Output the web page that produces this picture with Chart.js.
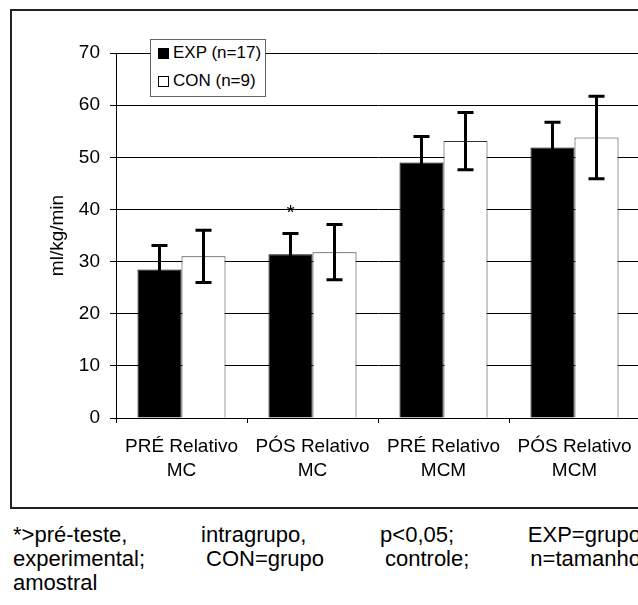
<!DOCTYPE html>
<html>
<head>
<meta charset="utf-8">
<script src="https://cdn.jsdelivr.net/npm/chart.js@4.4.0/dist/chart.umd.min.js"></script>
<style>
html, body { margin: 0; padding: 0; background: #fff; width: 638px; height: 605px; overflow: hidden; }
body { position: relative; font-family: "Liberation Sans", Arial, sans-serif; color: #000; }
#moldura { position: absolute; left: 10px; top: 9px; width: 680px; height: 496px; border: 2px solid #222; }
#grafico { position: absolute; left: 0; top: 0; }
#legenda { position: absolute; left: 150px; top: 39px; width: 114px; height: 56px; border: 1px solid #666; background: #fff; font-size: 17px; }
#legenda .item { position: absolute; left: 7px; height: 26px; line-height: 26px; white-space: nowrap; }
#legenda .marca { display: inline-block; width: 9px; height: 9px; border: 1px solid #000; margin-right: 4px; vertical-align: -1px; }
#nota { position: absolute; left: 13px; top: 523px; width: 628px; font-size: 22px; line-height: 24px; }
#nota .just { white-space: nowrap; display: flex; justify-content: space-between; }
</style>
</head>
<body>
<div id="moldura"><canvas id="grafico" width="660" height="496"></canvas></div>
<div id="legenda"></div>
<div id="nota">
  <div class="just"><span>*&gt;pré-teste,</span><span>intragrupo,</span><span>p&lt;0,05;</span><span>EXP=grupo</span></div>
  <div class="just"><span>experimental;</span><span>CON=grupo</span><span>controle;</span><span>n=tamanho</span></div>
  <div>amostral</div>
</div>
<script>
const categorias = [['PRÉ Relativo', 'MC'], ['PÓS Relativo', 'MC'], ['PRÉ Relativo', 'MCM'], ['PÓS Relativo', 'MCM']];
const mediaExp = [28.5, 31.4, 49.0, 51.9];
const erroExp = [4.6, 4.0, 5.0, 4.8];
const mediaCon = [31.0, 31.8, 53.1, 53.8];
const erroCon = [5.0, 5.3, 5.5, 7.9];
const marcaExp = ['', '*', '', ''];
const ticksY = [0, 10, 20, 30, 40, 50, 60, 70];

Chart.defaults.font.family = '"Liberation Sans", Arial, sans-serif';
Chart.defaults.color = '#000';

const barrasErro = {
    id: 'barrasErro',
    afterDatasetsDraw(chart) {
        const ctx = chart.ctx;
        const escalaY = chart.scales.y;
        chart.data.datasets.forEach((ds, i) => {
            const meta = chart.getDatasetMeta(i);
            meta.data.forEach((barra, j) => {
                const m = ds.data[j];
                const e = ds.erro[j];
                const topo = escalaY.getPixelForValue(m + e);
                const base = escalaY.getPixelForValue(m - e);
                ctx.save();
                ctx.strokeStyle = '#000';
                ctx.lineWidth = 3;
                ctx.beginPath();
                ctx.moveTo(barra.x, topo);
                ctx.lineTo(barra.x, base);
                ctx.moveTo(barra.x - 8, topo);
                ctx.lineTo(barra.x + 8, topo);
                ctx.moveTo(barra.x - 8, base);
                ctx.lineTo(barra.x + 8, base);
                ctx.stroke();
                if (ds.marca && ds.marca[j]) {
                    ctx.fillStyle = '#000';
                    ctx.font = '21px "Liberation Sans", Arial, sans-serif';
                    ctx.textAlign = 'center';
                    ctx.textBaseline = 'alphabetic';
                    ctx.fillText(ds.marca[j], barra.x, topo - 14);
                }
                ctx.restore();
            });
        });
    }
};

const grafico = new Chart(document.getElementById('grafico'), {
    type: 'bar',
    data: {
        labels: categorias,
        datasets: [{
            label: 'EXP (n=17)',
            data: mediaExp,
            erro: erroExp,
            marca: marcaExp,
            backgroundColor: '#000',
            borderColor: '#000',
            borderWidth: 1,
            categoryPercentage: 0.672,
            barPercentage: 1
        }, {
            label: 'CON (n=9)',
            data: mediaCon,
            erro: erroCon,
            backgroundColor: '#fff',
            borderColor: '#333',
            borderWidth: 1,
            categoryPercentage: 0.672,
            barPercentage: 1
        }]
    },
    options: {
        responsive: false,
        animation: false,
        devicePixelRatio: 1,
        layout: { padding: { top: 42, right: 32, left: 0, bottom: 0 } },
        plugins: {
            legend: { display: false },
            tooltip: { enabled: false }
        },
        scales: {
            x: {
                afterFit(s) { s.height = 89; },
                grid: { display: true, drawOnChartArea: false, drawTicks: true, tickLength: 5, offset: true, color: '#000' },
                border: { color: '#000', width: 1 },
                ticks: { autoSkip: false, maxRotation: 0, padding: 11, color: '#000', font: { size: 19, lineHeight: 1.3 } }
            },
            y: {
                min: 0,
                max: 70,
                afterFit(s) { s.width = 104; },
                afterBuildTicks(s) { s.ticks = ticksY.map(v => ({ value: v })); },
                grid: { color: '#000', lineWidth: 1, tickLength: 6 },
                border: { color: '#000', width: 1 },
                ticks: { padding: 10, color: '#000', font: { size: 19 } },
                title: { display: true, text: 'ml/kg/min', color: '#000', font: { size: 19, lineHeight: 1 }, padding: { top: 36, bottom: 0 } }
            }
        }
    },
    plugins: [barrasErro]
});

// legenda montada a partir dos datasets
const legenda = document.getElementById('legenda');
grafico.data.datasets.forEach((ds, i) => {
    const item = document.createElement('div');
    item.className = 'item';
    item.style.top = (i * 28) + 'px';
    const marca = document.createElement('span');
    marca.className = 'marca';
    marca.style.background = ds.backgroundColor;
    item.appendChild(marca);
    item.appendChild(document.createTextNode(ds.label));
    legenda.appendChild(item);
});
</script>
</body>
</html>
